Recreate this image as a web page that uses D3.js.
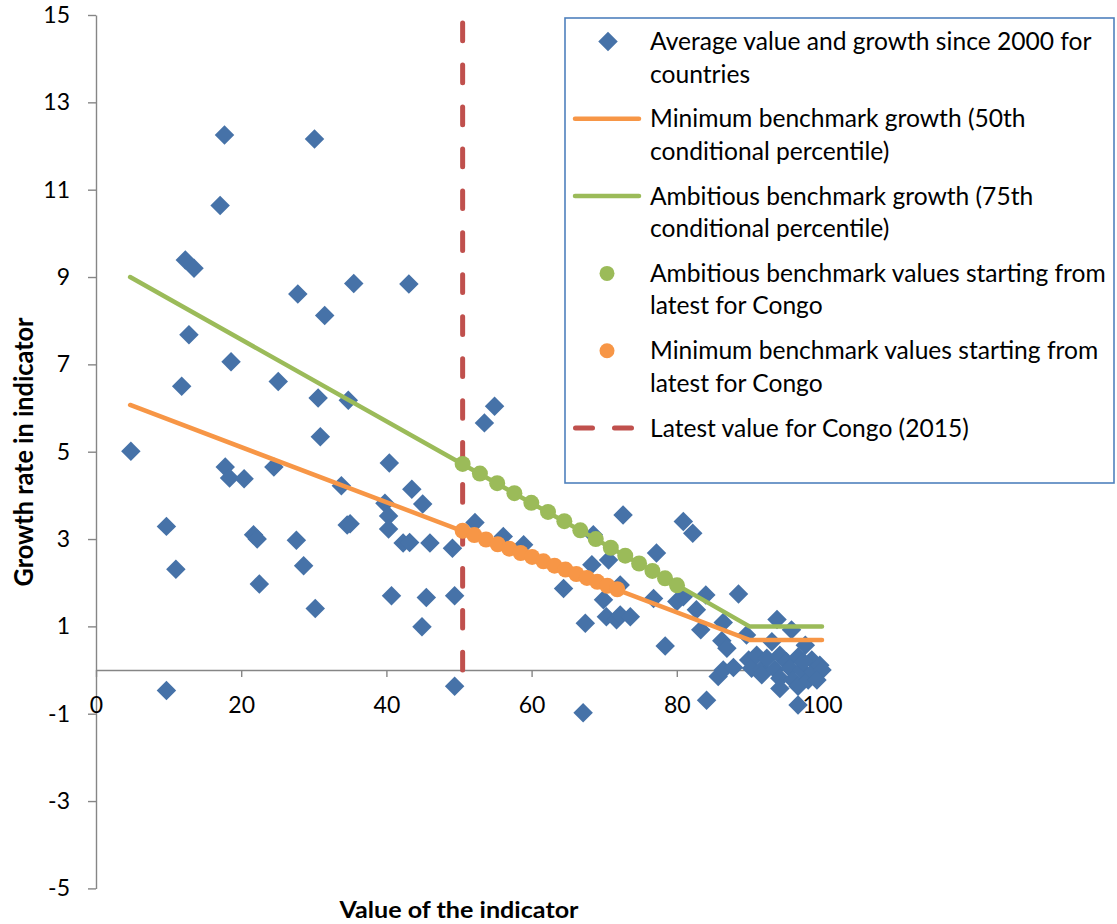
<!DOCTYPE html>
<html>
<head>
<meta charset="utf-8">
<script src="https://cdn.jsdelivr.net/npm/d3@7"></script>
<style>
  body { margin: 0; background: #fff; }
  svg text { font-family: Lato, "Open Sans", sans-serif; fill: #000; }
</style>
</head>
<body>
<svg id="chart" width="1117" height="924"></svg>
<script>
// countries: average value of the indicator / growth since 2000
var countryValue = [
    4.8, 9.7, 9.7, 11.0, 11.8, 12.3, 12.8, 13.5, 17.1, 17.7, 17.8, 18.4, 18.6, 20.4,
    21.7, 22.2, 22.5, 24.5, 25.1, 27.6, 27.8, 28.6, 30.1, 30.2, 30.6, 30.9, 31.5,
    33.8, 34.6, 34.75, 35.0, 35.5, 39.8, 40.3, 40.3, 40.4, 40.7, 42.3, 43.1, 43.2,
    43.5, 44.9, 45.0, 45.5, 46.0, 49.1, 49.4, 49.4,
    52.2, 53.5, 54.9, 56.1, 58.9, 64.4, 67.1, 67.4, 68.3, 68.5, 69.9, 70.3, 70.6,
    71.7, 72.2, 72.2, 72.6, 73.6, 76.8, 77.2, 78.4, 80.0, 80.9, 80.9, 82.2, 82.7,
    83.3, 84.0, 84.1, 85.7, 86.2, 86.4, 86.4, 86.9, 87.8, 88.5, 89.6, 89.9, 90.3,
    91.0, 91.7, 91.7, 92.4, 93.1, 93.5, 93.8, 94.2, 94.2, 94.2, 95.1, 95.6, 95.8,
    96.0, 96.7, 96.7, 96.7, 97.2, 97.7, 98.1, 98.6, 98.8, 99.7, 100.0, 97.4, 99.3
];
var countryGrowth = [
    5.01, 3.29, -0.47, 2.31, 6.5, 9.39, 7.68, 9.2, 10.64, 12.25, 4.65, 4.40, 7.06, 4.38,
    3.10, 3.0, 1.97, 4.65, 6.61, 2.97, 8.61, 2.39, 12.16, 1.41, 6.23, 5.34, 8.12,
    4.22, 3.32, 6.18, 3.35, 8.85, 3.82, 3.53, 3.23, 4.74, 1.70, 2.91, 8.84, 2.92,
    4.14, 0.99, 3.80, 1.66, 2.91, 2.79, 1.70, -0.37,
    3.38, 5.66, 6.04, 3.06, 2.87, 1.87, -0.98, 1.07, 2.41, 3.10, 1.61, 1.22, 2.52,
    1.15, 1.95, 1.26, 3.55, 1.22, 1.64, 2.68, 0.55, 1.57, 1.68, 3.40, 3.13, 1.38,
    0.92, 1.72, -0.69, -0.15, 0.67, 1.09, 0.0, 0.50, 0.06, 1.74, 0.80, 0.23, 0.04,
    0.34, 0.02, -0.11, 0.27, 0.65, 0.02, 1.16, 0.34, -0.19, -0.42, 0.19, 0.04, 0.92,
    -0.23, 0.30, -0.37, -0.80, 0.0, 0.57, -0.23, 0.23, -0.04, 0.11, 0.0, 0.19, -0.23
];

// benchmark growth curves
var minLineX = [4.7, 90, 100];
var minLineY = [6.07, 0.69, 0.69];
var ambLineX = [4.7, 80, 90, 100];
var ambLineY = [9.0, 1.95, 1.0, 1.0];

// benchmark paths starting from Congo's latest value
var ambDotsX = [50.5, 52.88, 55.26, 57.63, 59.96, 62.26, 64.51, 66.71, 68.84, 70.91, 72.90, 74.81, 76.64, 78.38, 80.03];
var ambDotsY = [4.72, 4.50, 4.28, 4.05, 3.83, 3.62, 3.41, 3.20, 3.00, 2.80, 2.62, 2.44, 2.27, 2.10, 1.94];
var minDotsX = [50.5, 52.11, 53.72, 55.33, 56.92, 58.50, 60.07, 61.63, 63.16, 64.67, 66.16, 67.62, 69.05, 70.44, 71.80];
var minDotsY = [3.19, 3.09, 2.99, 2.88, 2.78, 2.68, 2.59, 2.49, 2.39, 2.30, 2.20, 2.11, 2.02, 1.93, 1.85];

var congoLatest = 50.5;
var congoLineY = [0, 14.83];

var xTicks = [0, 20, 40, 60, 80, 100];
var yTicks = [-5, -3, -1, 1, 3, 5, 7, 9, 11, 13, 15];

var legendLabels = [
    ['Average value and growth since 2000 for', 'countries'],
    ['Minimum benchmark growth (50th', 'conditional percentile)'],
    ['Ambitious benchmark growth (75th', 'conditional percentile)'],
    ['Ambitious benchmark values starting from', 'latest for Congo'],
    ['Minimum benchmark values starting from', 'latest for Congo'],
    ['Latest value for Congo (2015)']
];

var colors = {
    country: '#4672A8',
    min: '#F79646',
    amb: '#9BBB59',
    congo: '#C0504D',
    axis: '#868686',
    legendBorder: '#4F81BD'
};

var svg = d3.select('#chart');
svg.append('rect').attr('width', 1117).attr('height', 924).attr('fill', '#fff');

var x = d3.scaleLinear().domain([0, 100]).range([96, 822]);
var y = d3.scaleLinear().domain([-5, 15]).range([888.4, 15]);
var plain = function (d) { return String(d); };

// axes
var yAxis = svg.append('g')
    .attr('transform', 'translate(' + x(0) + ',0)')
    .call(d3.axisLeft(y).tickValues(yTicks).tickFormat(plain)
        .tickSize(8).tickPadding(18).tickSizeOuter(0));
var xAxis = svg.append('g')
    .attr('transform', 'translate(0,' + y(0) + ')')
    .call(d3.axisBottom(x).tickValues(xTicks).tickFormat(plain)
        .tickSize(7).tickPadding(20).tickSizeOuter(0));

[xAxis, yAxis].forEach(function (a) {
    a.selectAll('path, line').attr('stroke', colors.axis).attr('stroke-width', 1.4);
    a.selectAll('text').style('font-size', '23px').attr('fill', '#000');
});

// axis titles
svg.append('text')
    .attr('transform', 'translate(33,452) rotate(-90)')
    .attr('text-anchor', 'middle')
    .attr('textLength', 269)
    .attr('lengthAdjust', 'spacingAndGlyphs')
    .style('font-size', '27px')
    .style('font-weight', 'bold')
    .text('Growth rate in indicator');

svg.append('text')
    .attr('x', 459)
    .attr('y', 918)
    .attr('text-anchor', 'middle')
    .attr('textLength', 239)
    .attr('lengthAdjust', 'spacingAndGlyphs')
    .style('font-size', '23px')
    .style('font-weight', 'bold')
    .text('Value of the indicator');

// Congo latest value
var vline = d3.line()
    .x(function () { return x(congoLatest); })
    .y(function (d) { return y(d); });
svg.append('path')
    .attr('d', vline(congoLineY))
    .attr('fill', 'none')
    .attr('stroke', colors.congo)
    .attr('stroke-width', 5)
    .attr('stroke-linecap', 'round')
    .attr('stroke-dasharray', '17.7 24.25');

// countries
var diamond = d3.symbol().type(d3.symbolSquare).size(190);
svg.append('g').selectAll('path')
    .data(d3.range(countryValue.length))
    .join('path')
    .attr('d', diamond)
    .attr('transform', function (i) {
        return 'translate(' + x(countryValue[i]) + ',' + y(countryGrowth[i]) + ') rotate(45)';
    })
    .attr('fill', colors.country);

// benchmark lines
var line = d3.line()
    .x(function (d) { return x(d[0]); })
    .y(function (d) { return y(d[1]); });

svg.append('path')
    .attr('d', line(d3.zip(minLineX, minLineY)))
    .attr('fill', 'none')
    .attr('stroke', colors.min)
    .attr('stroke-width', 4.5)
    .attr('stroke-linecap', 'round')
    .attr('stroke-linejoin', 'round');

svg.append('path')
    .attr('d', line(d3.zip(ambLineX, ambLineY)))
    .attr('fill', 'none')
    .attr('stroke', colors.amb)
    .attr('stroke-width', 4.5)
    .attr('stroke-linecap', 'round')
    .attr('stroke-linejoin', 'round');

// benchmark dots
svg.append('g').selectAll('circle')
    .data(d3.zip(ambDotsX, ambDotsY))
    .join('circle')
    .attr('cx', function (d) { return x(d[0]); })
    .attr('cy', function (d) { return y(d[1]); })
    .attr('r', 8)
    .attr('fill', colors.amb);

svg.append('g').selectAll('circle')
    .data(d3.zip(minDotsX, minDotsY))
    .join('circle')
    .attr('cx', function (d) { return x(d[0]); })
    .attr('cy', function (d) { return y(d[1]); })
    .attr('r', 8)
    .attr('fill', colors.min);

// legend
var legend = svg.append('g');
legend.append('rect')
    .attr('x', 565).attr('y', 18)
    .attr('width', 549).attr('height', 465)
    .attr('fill', '#fff')
    .attr('stroke', colors.legendBorder)
    .attr('stroke-width', 1.6);

var entryTop = 50, entryStep = 77.3, lineGap = 32.5;
legendLabels.forEach(function (lines, i) {
    var base = entryTop + i * entryStep;
    var t = legend.append('text').style('font-size', '24.6px');
    lines.forEach(function (s, j) {
        t.append('tspan').attr('x', 650).attr('y', base + j * lineGap).text(s);
    });
    var cy = base - 8.5;
    if (i === 0) {
        legend.append('path').attr('d', diamond)
            .attr('transform', 'translate(608,' + cy + ') rotate(45)')
            .attr('fill', colors.country);
    } else if (i === 1 || i === 2) {
        legend.append('line')
            .attr('x1', 575).attr('x2', 639).attr('y1', cy).attr('y2', cy)
            .attr('stroke', i === 1 ? colors.min : colors.amb)
            .attr('stroke-width', 4.5)
            .attr('stroke-linecap', 'round');
    } else if (i === 3 || i === 4) {
        legend.append('circle')
            .attr('cx', 607).attr('cy', cy).attr('r', 7.5)
            .attr('fill', i === 3 ? colors.amb : colors.min);
    } else {
        legend.append('line')
            .attr('x1', 575.5).attr('x2', 635).attr('y1', cy).attr('y2', cy)
            .attr('stroke', colors.congo)
            .attr('stroke-width', 5)
            .attr('stroke-linecap', 'round')
            .attr('stroke-dasharray', '17 22');
    }
});
</script>
</body>
</html>
